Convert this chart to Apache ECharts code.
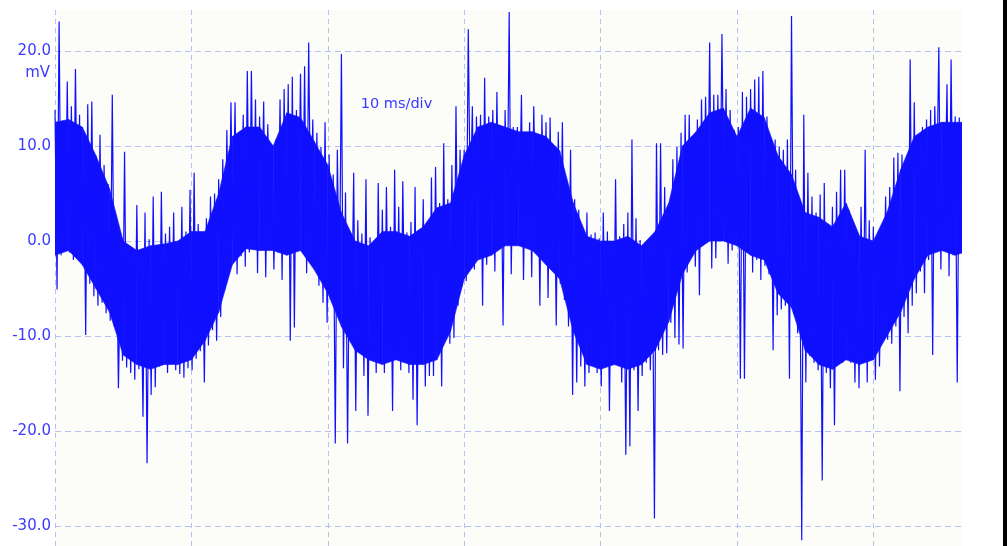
<!DOCTYPE html>
<html>
<head>
<meta charset="utf-8">
<script src="https://cdn.jsdelivr.net/npm/echarts@6/dist/echarts.min.js"></script>
<style>
html,body{margin:0;padding:0;background:#ffffff;}
#chart{width:1007px;height:546px;}
</style>
</head>
<body>
<div id="chart"></div>
<script>
// Sample spacing of the columns (ms)
const sampleStepMs = 0.3;
// Spacing of the points read along the solid body of the trace (ms)
const coreStepMs = 1;
const timebaseLabel = '10 ms/div';
const unitLabel = 'mV';

// Upper extent of the trace in each column (mV)
const upper = [
  13.8, 23.1, 12.5, 16.8, 14.2, 18.1, 13.3, 11.5, 14.4, 14.7,
  8.8, 11.2, 8.0, 6.0, 15.4, 1.5, -2.5, 9.4, -3.0, -1.5,
  3.8, -2.0, 3.0, 0.2, 4.7, -0.6, 5.2, 0.8, 1.5, 3.0,
  -0.4, 3.6, 1.0, 5.4, 7.2, 1.8, 0.5, 2.4, 4.7, 5.0,
  6.5, 8.6, 11.7, 14.6, 14.6, 10.7, 13.3, 17.9, 17.9, 14.9,
  13.1, 14.7, 12.3, 9.6, 10.7, 14.9, 16.0, 16.5, 17.3, 13.8,
  17.6, 18.4, 20.9, 12.8, 11.4, 9.9, 12.5, 9.1, 7.0, 9.6,
  19.7, 5.1, 0.9, 7.2, 2.2, 0.8, 6.5, 0.4, -0.9, 6.1,
  3.3, 5.7, 1.5, 7.5, 3.6, 6.3, 0.9, 2.0, 5.7, 1.2,
  4.4, 1.5, 6.7, 7.8, 4.0, 10.3, 4.4, 8.0, 14.2, 9.6,
  9.6, 22.3, 14.2, 13.1, 13.3, 17.2, 13.1, 13.8, 15.7, 11.0,
  13.8, 24.1, 12.0, 12.0, 15.4, 11.0, 12.5, 14.2, 11.0, 13.3,
  12.5, 13.0, 8.9, 11.5, 12.5, 6.5, 9.6, 4.4, 3.3, 1.2,
  3.0, 0.7, 0.9, 0.3, 3.0, 1.0, -0.1, 6.5, 0.5, 1.8,
  3.0, 10.7, 2.4, 0.1, -0.9, 0.0, -0.5, 10.3, 10.3, 5.7,
  3.6, 8.6, 9.9, 11.4, 13.3, 13.3, 11.0, 12.8, 14.9, 15.2,
  20.9, 15.4, 15.4, 21.8, 16.0, 13.8, 11.7, 12.0, 15.7, 15.2,
  16.0, 17.0, 17.3, 17.9, 13.1, 10.7, 10.7, 9.9, 9.6, 10.7,
  23.7, 7.5, 3.0, 13.3, 7.2, 4.7, 3.0, 4.9, 6.1, -2.3,
  3.6, 5.2, 7.5, 7.5, 3.3, 1.2, 0.1, 3.6, 9.6, 2.2,
  1.5, 0.7, -0.6, 4.7, 5.7, 8.8, 9.3, 9.1, 6.1, 19.1,
  14.6, 11.0, 12.0, 12.8, 13.8, 14.2, 20.4, 12.5, 16.5, 19.1,
  13.1, 13.0
];

// Lower extent of the trace in each column (mV)
const lower = [
  -5.1, -1.5, -0.8, -1.2, -2.0, -0.6, -2.3, -9.9, -4.5, -5.8,
  -6.8, -6.5, -7.6, -8.4, -9.0, -15.5, -12.6, -13.3, -13.9, -14.6,
  -13.5, -18.5, -23.4, -16.2, -15.4, -13.2, -12.8, -13.9, -12.5, -13.6,
  -14.0, -14.4, -13.4, -13.6, -12.4, -11.6, -14.9, -11.0, -9.4, -10.5,
  -8.0, -5.1, -2.3, 0.1, -3.5, -1.6, -2.7, -1.2, 0.1, -3.4,
  3.0, -3.8, 2.6, -3.0, -1.2, -4.1, -1.2, -10.5, -9.1, 0.9,
  -1.2, -3.4, 0.9, -2.7, -4.7, -6.5, -8.6, -5.1, -21.3, -6.5,
  -13.4, -21.3, -8.6, -17.9, -10.4, -14.2, -18.4, -11.8, -13.9, -12.8,
  -13.9, -11.0, -17.9, -12.4, -13.6, -9.7, -13.9, -16.7, -19.4, -9.7,
  -15.3, -14.2, -14.2, -8.6, -15.3, -10.4, -10.8, -10.2, -6.8, -4.7,
  -4.2, 3.3, -3.0, 0.9, -6.8, -2.5, 2.2, -3.2, -0.6, -8.9,
  0.9, -3.5, 0.9, 3.6, -4.1, 2.6, -3.8, 2.8, -6.8, 0.1,
  -6.0, -1.7, -8.9, -4.5, -6.2, -9.0, -16.2, -14.9, -13.2, -15.3,
  -13.9, -12.8, -13.9, -15.3, -12.6, -17.9, -13.0, -12.5, -14.9, -22.5,
  -21.6, -13.6, -17.9, -14.2, -12.8, -13.6, -29.2, -11.5, -12.0, -11.8,
  -8.6, -10.2, -10.9, -11.3, -3.3, -1.2, -2.7, -5.7, 1.2, 1.5,
  -2.9, -1.8, 0.9, 1.2, -2.4, -1.0, 0.9, -14.5, -14.5, -0.9,
  -3.3, -2.0, -4.1, -2.6, -3.5, -11.5, -7.8, -7.2, -6.8, -14.5,
  -7.6, -9.7, -31.5, -14.9, -12.1, -12.8, -13.6, -25.2, -13.9, -15.5,
  -19.4, -8.6, -12.8, -9.4, -12.8, -14.9, -15.5, -12.8, -14.9, -12.0,
  -14.6, -13.2, -7.9, -10.4, -10.8, -9.0, -15.8, -8.0, -9.7, -6.8,
  -5.5, -3.2, -5.5, -2.0, -12.0, 5.4, -3.0, 3.6, -3.7, -1.5,
  -14.9, -1.2
];

// Top and bottom of the solid body of the trace, one value per ms (mV)
const coreTop = [
  12.5, 12.8, 12.0, 9.0, 5.5, 0.0, -1.0, -0.5, -0.3, 0.0,
  1.0, 1.0, 5.0, 11.0, 12.0, 12.0, 10.0, 13.5, 13.0, 10.5,
  8.0, 3.0, 0.0, -0.5, 1.0, 1.0, 0.5, 1.5, 3.5, 4.0,
  9.0, 12.0, 12.5, 12.0, 11.5, 11.5, 11.0, 9.5, 4.0, 0.5,
  0.0, 0.0, 0.5, -0.5, 1.0, 4.0, 10.0, 11.5, 13.5, 14.0,
  11.0, 14.0, 13.0, 9.0, 7.0, 3.0, 2.5, 1.5, 4.0, 0.5,
  0.0, 3.0, 7.5, 11.0, 12.0, 12.5, 12.5, 12.5
];
const coreBottom = [
  -1.5, -1.0, -2.5, -5.0, -7.5, -12.0, -13.0, -13.5, -13.0, -13.0,
  -12.5, -10.5, -7.5, -2.5, -0.8, -1.0, -1.0, -1.5, -1.0, -3.0,
  -5.5, -9.0, -11.5, -12.5, -13.0, -12.5, -13.0, -13.0, -12.5, -9.5,
  -4.0, -2.0, -1.5, -0.5, -0.5, -1.0, -2.5, -4.0, -9.5, -13.0,
  -13.5, -13.0, -13.5, -13.0, -11.5, -8.5, -3.5, -1.0, 0.0, 0.0,
  -0.5, -1.5, -2.0, -5.5, -7.0, -11.5, -13.0, -13.5, -12.5, -13.0,
  -12.5, -10.0, -7.5, -4.0, -1.5, -1.0, -1.5, -1.0
];

// Axis settings
const xMaxMs = 66.5;
const xDivMs = 10;
const yBottom = -32.1, yTop = 24.32, yDiv = 10;

// Build the trace: each column contributes its top then its bottom
const trace = [];
for (let i = 0; i < upper.length; i++) {
  const t = i * sampleStepMs;
  trace.push([t, upper[i]]);
  trace.push([t + sampleStepMs / 2, lower[i]]);
}
// Body band segments: [t0, top0, bottom0, t1, top1, bottom1]
const bandSegments = [];
for (let i = 0; i + 1 < coreTop.length; i++) {
  bandSegments.push([i * coreStepMs, coreTop[i], coreBottom[i],
                     (i + 1) * coreStepMs, coreTop[i + 1], coreBottom[i + 1]]);
}

const traceColor = '#1010ff';
const gridColor = '#b6c0f2';
const labelColor = '#3a3aff';

const chart = echarts.init(document.getElementById('chart'), null, {renderer: 'canvas'});
chart.setOption({
  animation: false,
  backgroundColor: '#ffffff',
  grid: {
    left: 55, right: 45, top: 10, bottom: 0,
    show: true, backgroundColor: '#fcfcf9', borderWidth: 0
  },
  xAxis: {
    type: 'value', min: 0, max: xMaxMs, interval: xDivMs,
    axisLine: {show: false}, axisTick: {show: false}, axisLabel: {show: false},
    splitLine: {show: true, showMaxLine: false, lineStyle: {color: gridColor, type: [5, 4], width: 1}}
  },
  yAxis: {
    type: 'value', min: yBottom, max: yTop, minInterval: yDiv, maxInterval: yDiv,
    axisLine: {show: false}, axisTick: {show: false},
    axisLabel: {
      show: true, margin: 4, color: labelColor, fontSize: 15,
      fontFamily: 'DejaVu Sans', showMinLabel: false, showMaxLabel: false,
      formatter: v => v.toFixed(1)
    },
    splitLine: {show: true, showMinLine: false, showMaxLine: false,
      lineStyle: {color: gridColor, type: [6, 4], width: 1}}
  },
  series: [
    {
      type: 'custom',
      data: bandSegments,
      clip: true,
      silent: true,
      z: 2,
      encode: {x: [0, 3], y: [1, 2, 4, 5]},
      renderItem: function (params, api) {
        const p0 = api.coord([api.value(0), api.value(1)]);
        const p1 = api.coord([api.value(3), api.value(4)]);
        const p2 = api.coord([api.value(3), api.value(5)]);
        const p3 = api.coord([api.value(0), api.value(2)]);
        return {
          type: 'polygon',
          shape: {points: [p0, p1, p2, p3]},
          style: {fill: traceColor, stroke: traceColor, lineWidth: 0.6}
        };
      }
    },
    {
      type: 'line',
      data: trace,
      showSymbol: false,
      symbol: 'none',
      sampling: null,
      clip: true,
      lineStyle: {color: traceColor, width: 1.2},
      z: 3
    }
  ],
  graphic: [
    {type: 'rect', shape: {x: 1003, y: 0, width: 4, height: 546}, style: {fill: '#000000'}, z: 100},
    {type: 'text', x: 50, y: 73.5, style: {text: unitLabel, fill: labelColor, font: '15px "DejaVu Sans"', align: 'right', verticalAlign: 'middle'}, z: 100},
    {type: 'text', x: 396.5, y: 104.5, style: {text: timebaseLabel, fill: labelColor, font: '14.5px "DejaVu Sans"', align: 'center', verticalAlign: 'middle'}, z: 100}
  ]
});
</script>
</body>
</html>
